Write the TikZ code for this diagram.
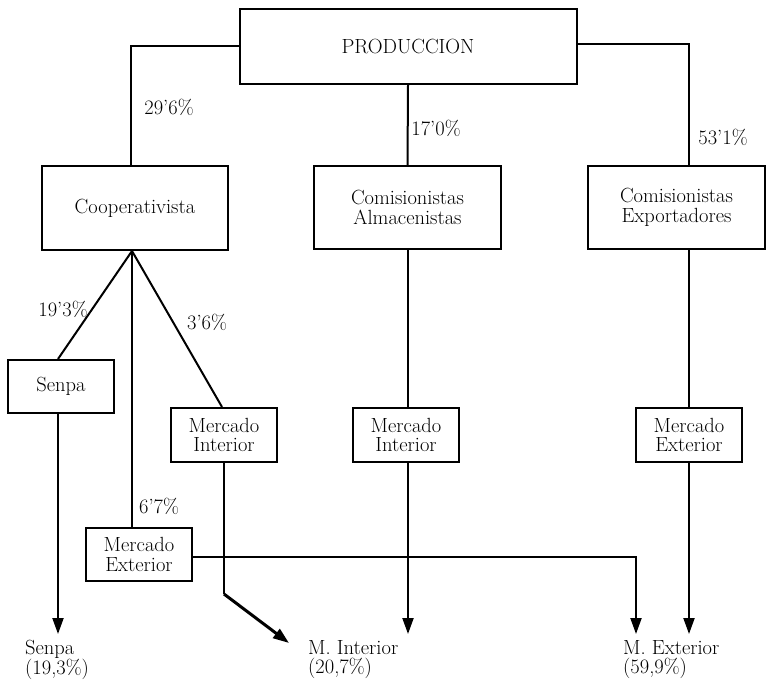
\documentclass[tikz,border=0pt]{standalone}
\usepackage{tikz}
\usetikzlibrary{arrows.meta}

\tikzset{
    box/.style={draw, line width=2pt, align=center, inner sep=0pt},
    flow/.style={line width=2pt},
    flowarrow/.style={flow, -{Triangle[length=16pt,width=11pt]}},
    pct/.style={inner sep=1pt},
    dest/.style={align=left, anchor=north west, inner sep=0pt}
}

\begin{document}
\begin{tikzpicture}[x=1pt, y=-1pt, font=\fontsize{20.5}{19.5}\selectfont]
        \useasboundingbox (0,0) rectangle (767,679);

        % Top level
        \node[box, minimum width=337pt, minimum height=75pt] (prod) at (408,46.5) {PRODUCCION};

        % Second level
        \node[box, minimum width=186pt, minimum height=84pt] (coop) at (135,208) {Cooperativista};
        \node[box, minimum width=187pt, minimum height=83pt] (alm) at (407.5,207.5) {Comisionistas\\Almacenistas};
        \node[box, minimum width=177pt, minimum height=83pt] (exp) at (676.5,207.5) {Comisionistas\\Exportadores};

        % Third level
        \node[box, minimum width=106pt, minimum height=53pt] (senpa) at (61,386.5) {Senpa};
        \node[box, minimum width=106pt, minimum height=54pt] (minl) at (224,435) {Mercado\\Interior};
        \node[box, minimum width=106pt, minimum height=53pt] (mexl) at (139,554.5) {Mercado\\Exterior};
        \node[box, minimum width=106pt, minimum height=54pt] (minm) at (406,435) {Mercado\\Interior};
        \node[box, minimum width=106pt, minimum height=54pt] (mexr) at (689,435) {Mercado\\Exterior};

        % Final destinations
        \node[dest] (dsenpa) at (25,640) {Senpa\\(19,3\%)};
        \node[dest] (dint) at (308,640) {M. Interior\\(20,7\%)};
        \node[dest] (dext) at (623,640) {M. Exterior\\(59,9\%)};

        % free ends of the arrows
        \coordinate (endS) at (58,634);
        \coordinate (bendI) at (224,594);
        \coordinate (endI) at (289,643);
        \coordinate (endM) at (408,634);
        \coordinate (endX) at (636,634);
        \coordinate (endE) at (689,634);

        % lines from production
        \draw[flow] (prod.west) -| ([xshift=-4pt]coop.north);
        \draw[flow] ([yshift=2pt]prod.east) -| (mexr.north |- exp.north);
        \draw[flow] (prod.south) -- (alm.north);

        % lines from cooperativista
        \draw[flow] ([xshift=-3pt]coop.south) -- ([xshift=-3pt]senpa.north);
        \draw[flow] ([xshift=-3pt]coop.south) -- ([xshift=-3pt]coop.south |- mexl.north);
        \draw[flow] ([xshift=-3pt]coop.south) -- ([xshift=-2pt]minl.north);

        % lines down to the markets
        \draw[flow] (endM |- alm.south) -- (endM |- minm.north);
        \draw[flow] (mexr.north |- exp.south) -- (mexr.north);

        % arrows to the destinations
        \draw[flowarrow] ([xshift=-3pt]senpa.south) -- (endS);
        \draw[flow] (minl.south) -- (bendI);
        \draw[line width=3pt, -{Triangle[length=16pt,width=11pt]}] (bendI) -- (endI);
        \draw[flowarrow] ([yshift=-2pt]mexl.east) -| (endX);
        \draw[flowarrow] (endM |- minm.south) -- (endM);
        \draw[flowarrow] (mexr.south) -- (endE);

        % Percentages
        \node[pct] (p1) at (169,107) {29'6\%};
        \node[pct] (p2) at (436,128) {17'0\%};
        \node[pct] (p3) at (723,137) {53'1\%};
        \node[pct] (p4) at (63,309) {19'3\%};
        \node[pct] (p5) at (207,322) {3'6\%};
        \node[pct] (p6) at (159,506) {6'7\%};

    \end{tikzpicture}
\end{document}
